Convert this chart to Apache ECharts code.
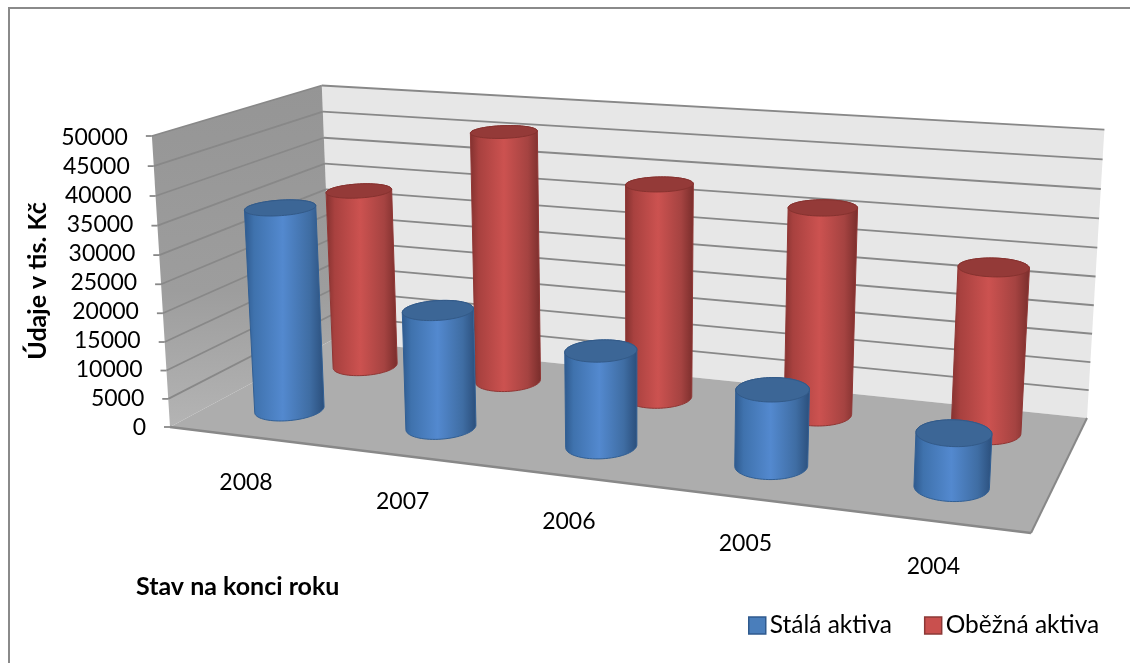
<!DOCTYPE html>
<html>
<head>
<meta charset="utf-8">
<style>html,body{margin:0;padding:0;background:#fff}#chart{width:1130px;height:663px}</style>
<script src="https://cdn.jsdelivr.net/npm/echarts@6/dist/echarts.min.js"></script>
</head>
<body>
<div id="chart"></div>
<script>
const categories = ['2008', '2007', '2006', '2005', '2004'];
const stalaAktiva = [35900, 20500, 16300, 12750, 8800];
const obeznaAktiva = [33300, 45900, 38450, 36400, 28500];
const valueTicks = [0, 5000, 10000, 15000, 20000, 25000, 30000, 35000, 40000, 45000, 50000];

const FONT = 'Lato, "Open Sans", sans-serif';
const GRID = { left: 146, top: 138, width: 860, height: 290 };

// Floor corners on screen, the height of the front-left edge and the point
// where all vertical edges of the plot box converge.
const P000 = [170, 427], P100 = [1031, 533], P001 = [332, 340], P101 = [1087, 418];
const FRONT_TOP_Y = 136;
const VERTICAL_VP = [636, 7900];

function solve2(a, b, c, d, e, f) {
  const det = a * d - b * c;
  return [(e * d - b * f) / det, (a * f - e * c) / det];
}
const [w1, w3] = solve2(
  P100[0] - P101[0], P001[0] - P101[0],
  P100[1] - P101[1], P001[1] - P101[1],
  P000[0] - P101[0], P000[1] - P101[1]
);
const hom = p => [p[0], p[1], 1];
const scale = (p, w) => hom(p).map(v => v * w);
const cO = hom(P000);
const cX = scale(P100, w1).map((v, i) => v - cO[i]);
const cZ = scale(P001, w3).map((v, i) => v - cO[i]);
const cY = scale(VERTICAL_VP, (P000[1] - FRONT_TOP_Y) / (FRONT_TOP_Y - VERTICAL_VP[1]));

function project(X, Y, Z) {
  const q = [0, 1, 2].map(i => cO[i] + X * cX[i] + Y * cY[i] + Z * cZ[i]);
  return [q[0] / q[2], q[1] / q[2]];
}

// Pixel position from the cartesian scales back to box coordinates.
function toBox(api, cat, value) {
  const c = api.coord([cat, value]);
  return [(c[0] - GRID.left) / GRID.width, (GRID.top + GRID.height - c[1]) / GRID.height];
}

function hull(points) {
  const pts = points.slice().sort((a, b) => a[0] - b[0] || a[1] - b[1]);
  const cross = (o, a, b) => (a[0] - o[0]) * (b[1] - o[1]) - (a[1] - o[1]) * (b[0] - o[0]);
  const lower = [], upper = [];
  for (const p of pts) {
    while (lower.length > 1 && cross(lower[lower.length - 2], lower[lower.length - 1], p) <= 0) lower.pop();
    lower.push(p);
  }
  for (const p of pts.slice().reverse()) {
    while (upper.length > 1 && cross(upper[upper.length - 2], upper[upper.length - 1], p) <= 0) upper.pop();
    upper.push(p);
  }
  return lower.slice(0, -1).concat(upper.slice(0, -1));
}

const RX = 0.0395, RZ = 0.115, X_SHIFT = -0.002;

function cylinder(depth, palette) {
  return function (params, api) {
    const [X, Y] = toBox(api, api.value(0), api.value(1));
    const base = [], top = [];
    for (let k = 0; k < 72; k++) {
      const t = k / 72 * Math.PI * 2;
      const x = X + X_SHIFT + RX * Math.cos(t), z = depth + RZ * Math.sin(t);
      base.push(project(x, 0, z));
      top.push(project(x, Y, z));
    }
    const body = hull(base.concat(top));
    const xs = body.map(p => p[0]);
    const minX = Math.min.apply(null, xs), maxX = Math.max.apply(null, xs);
    const fill = {
      type: 'linear', x: minX, y: 0, x2: maxX, y2: 0, global: true,
      colorStops: [
        { offset: 0, color: palette.edgeL },
        { offset: 0.12, color: palette.shoulderL },
        { offset: 0.48, color: palette.mid },
        { offset: 0.82, color: palette.shoulderR },
        { offset: 1, color: palette.edgeR }
      ]
    };
    return {
      type: 'group',
      children: [
        { type: 'polygon', shape: { points: body }, style: { fill: fill, stroke: palette.line, lineWidth: 1 } },
        { type: 'polygon', shape: { points: top }, style: { fill: palette.top, stroke: palette.topLine, lineWidth: 1 } }
      ]
    };
  };
}

function renderBox(params, api) {
  const line = (a, b, w) => ({
    type: 'line',
    shape: { x1: a[0], y1: a[1], x2: b[0], y2: b[1] },
    style: { stroke: '#888888', lineWidth: w || 1.8 }
  });
  const poly = (pts, fill) => ({ type: 'polygon', shape: { points: pts }, style: { fill: fill } });
  const children = [
    poly([project(0, 0, 1), project(1, 0, 1), project(1, 1, 1), project(0, 1, 1)], '#e7e7e7'),
    poly([project(0, 0, 0), project(0, 0, 1), project(0, 1, 1), project(0, 1, 0)], {
      type: 'linear', x: 0, y: 0, x2: 0, y2: 1,
      colorStops: [{ offset: 0, color: '#959595' }, { offset: 0.6, color: '#9d9d9d' }, { offset: 1, color: '#b4b4b4' }]
    }),
    poly([project(0, 0, 0), project(1, 0, 0), project(1, 0, 1), project(0, 0, 1)], '#adadad')
  ];
  valueTicks.forEach(v => {
    const Y = toBox(api, 0, v)[1];
    const front = project(0, Y, 0);
    if (v > 0) {
      children.push(line(front, project(0, Y, 1)));
      children.push(line(project(0, Y, 1), project(1, Y, 1)));
    }
    children.push(line([front[0] - 6, front[1]], front));
  });
  children.push(line(project(0, 0, 0), project(1, 0, 0), 2.4));
  children.push(line(project(1, 0, 0), project(1, 0, 1), 2));
  return { type: 'group', children: children };
}

// Year labels follow the slanted front edge of the floor.
function renderYearLabel(params, api) {
  const X = toBox(api, api.value(0), 0)[0];
  const p = project(X, 0, 0);
  return {
    type: 'text',
    style: {
      text: categories[api.value(0)],
      x: p[0] + 1, y: p[1] + 46,
      align: 'center', verticalAlign: 'middle',
      font: '23px ' + FONT, fill: '#000'
    }
  };
}

// Value labels step along the slanted front edge of the left wall.
const valueRich = {};
valueTicks.forEach(v => {
  const Y = v / 50000;
  const right = project(0, Y, 0)[0] - 24;
  valueRich['v' + v] = {
    fontFamily: FONT, fontSize: 23, color: '#000',
    padding: [0, Math.max(0, GRID.left - right), 0, 0]
  };
});

const bluePalette = {
  edgeL: '#2f5a8e', shoulderL: '#3f72ad', mid: '#5389cf', shoulderR: '#3f6da3', edgeR: '#2b4f7c',
  line: '#315f94', top: '#3c6696', topLine: '#335a88'
};
const redPalette = {
  edgeL: '#843230', shoulderL: '#a8413f', mid: '#cc5250', shoulderR: '#a54341', edgeR: '#7a2e2c',
  line: '#903634', top: '#943a38', topLine: '#86322f'
};

const option = {
  animation: false,
  backgroundColor: '#ffffff',
  grid: Object.assign({ containLabel: false }, GRID),
  xAxis: {
    type: 'category', data: categories,
    axisLine: { show: false }, axisTick: { show: false }, axisLabel: { show: false }, splitLine: { show: false }
  },
  yAxis: {
    type: 'value', min: 0, max: 50000, interval: 5000,
    axisLine: { show: false }, axisTick: { show: false }, splitLine: { show: false },
    axisLabel: { margin: 0, formatter: v => '{v' + v + '|' + v + '}', rich: valueRich }
  },
  legend: {
    left: 748, top: 613, padding: 0, itemWidth: 17, itemHeight: 17, itemGap: 32,
    textStyle: { fontFamily: FONT, fontSize: 24.5, color: '#000', padding: [0, 0, 0, -1] },
    data: [
      { name: 'Stálá aktiva', icon: 'rect', itemStyle: { color: '#4a7ebb', borderColor: '#2f5a8e', borderWidth: 1.5 } },
      { name: 'Oběžná aktiva', icon: 'rect', itemStyle: { color: '#c9504e', borderColor: '#8c3836', borderWidth: 1.5 } }
    ]
  },
  graphic: [
    { type: 'line', silent: true, shape: { x1: 8, y1: 8, x2: 1130, y2: 8 }, style: { stroke: '#8a8a8a', lineWidth: 2 } },
    { type: 'line', silent: true, shape: { x1: 9, y1: 8, x2: 9, y2: 663 }, style: { stroke: '#8a8a8a', lineWidth: 2 } },
    { type: 'text', left: 136, top: 574, style: { text: 'Stav na konci roku', font: 'bold 25px ' + FONT, fill: '#000' } },
    { type: 'text', x: 38, y: 281, rotation: Math.PI / 2, style: { text: 'Údaje v tis. Kč', font: 'bold 25px ' + FONT, fill: '#000', align: 'center', verticalAlign: 'middle' } }
  ],
  series: [
    { type: 'custom', name: 'box', z: 1, silent: true, data: [[0, 0]], renderItem: renderBox, encode: { x: 0, y: 1 } },
    { type: 'custom', name: 'years', z: 1, silent: true, data: categories.map((c, i) => [i, 0]), renderItem: renderYearLabel, encode: { x: 0, y: 1 } },
    { type: 'custom', name: 'Oběžná aktiva', z: 3, data: obeznaAktiva.map((v, i) => [i, v]), renderItem: cylinder(0.765, redPalette), encode: { x: 0, y: 1 }, itemStyle: { color: '#c9504e' } },
    { type: 'custom', name: 'Stálá aktiva', z: 4, data: stalaAktiva.map((v, i) => [i, v]), renderItem: cylinder(0.27, bluePalette), encode: { x: 0, y: 1 }, itemStyle: { color: '#4a7ebb' } }
  ]
};

echarts.init(document.getElementById('chart')).setOption(option);
</script>
</body>
</html>
